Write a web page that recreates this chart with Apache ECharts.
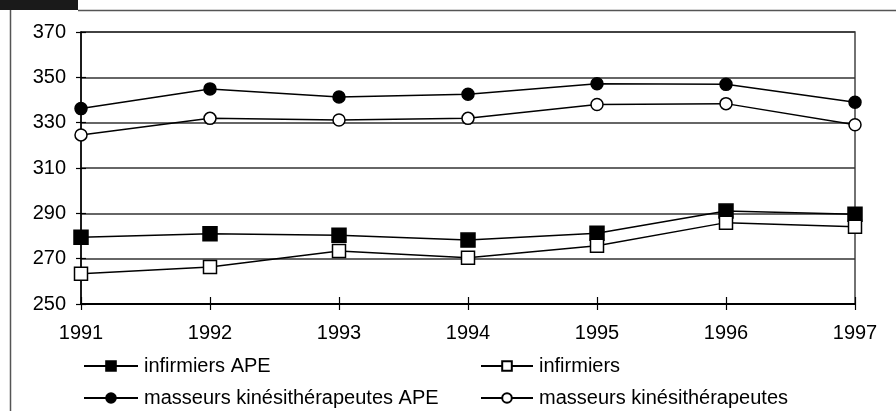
<!DOCTYPE html>
<html>
<head>
<meta charset="utf-8">
<script src="https://cdn.jsdelivr.net/npm/echarts@6/dist/echarts.min.js"></script>
<style>html,body{margin:0;padding:0;background:#fff;}#c{width:896px;height:411px;}</style>
</head>
<body>
<div id="c"></div>
<script>
const years = ['1991','1992','1993','1994','1995','1996','1997'];
const infirmiersAPE = [279.5, 281, 280.3, 278.2, 281.2, 291, 289.6];
const infirmiers = [263.4, 266.3, 273.4, 270.4, 275.7, 285.9, 284.1];
const masseursAPE = [336.2, 344.9, 341.3, 342.5, 347.2, 346.9, 339];
const masseurs = [324.6, 331.9, 331.2, 331.9, 338, 338.4, 329.1];
const yTicks = {min: 250, max: 370, interval: 20};

const FONT = 'Liberation Sans, Arial, sans-serif';
const FS = 20;
const chart = echarts.init(document.getElementById('c'));

function mkSeries(name, data, symbol, size, filled) {
  return {
    name, type: 'line', data, symbol, symbolSize: size,
    xAxisIndex: 0, yAxisIndex: 0,
    lineStyle: {color: '#000', width: 1.5},
    itemStyle: {color: filled ? '#000' : '#fff', borderColor: '#000', borderWidth: 1.5},
    emphasis: {disabled: true}, animation: false, z: filled ? 3 : 4
  };
}
function mkLegend(name, left, top, w) {
  return {
    data: [name], left, top, padding: 0, itemWidth: w, itemHeight: 12, itemGap: 0,
    textStyle: {fontFamily: FONT, fontSize: FS, color: '#000', padding: [0,0,0,1]},
    selectedMode: false
  };
}

chart.setOption({
  backgroundColor: '#fff',
  animation: false,
  grid: {left: 81, right: 41, top: 32, bottom: 107, show: true, borderColor: '#444', borderWidth: 1.5, backgroundColor: 'transparent'},
  xAxis: [{
    type: 'category', data: years, boundaryGap: false,
    axisLine: {lineStyle: {color: '#000', width: 2}},
    axisTick: {show: true, length: 6, lineStyle: {color: '#000', width: 1.2}, alignWithLabel: true},
    axisLabel: {fontFamily: FONT, fontSize: FS, color: '#000', margin: 19},
    splitLine: {show: false}
  }, {
    type: 'category', data: years, boundaryGap: false, position: 'bottom',
    axisLine: {show: false},
    axisTick: {show: true, inside: true, length: 7, lineStyle: {color: '#000', width: 1.2}},
    axisLabel: {show: false}, splitLine: {show: false}
  }],
  yAxis: [{
    type: 'value', min: yTicks.min, max: yTicks.max, interval: yTicks.interval,
    axisLine: {show: true, lineStyle: {color: '#000', width: 1.5}},
    axisTick: {show: true, length: 5, lineStyle: {color: '#000', width: 1.2}},
    axisLabel: {fontFamily: FONT, fontSize: FS, color: '#000', margin: 15},
    splitLine: {show: true, lineStyle: {color: '#333', width: 1.5}}
  }, {
    type: 'value', min: yTicks.min, max: yTicks.max, interval: yTicks.interval, position: 'left',
    axisLine: {show: false},
    axisTick: {show: true, inside: true, length: 5, lineStyle: {color: '#000', width: 1.2}},
    axisLabel: {show: false}, splitLine: {show: false}
  }],
  legend: [
    mkLegend('infirmiers APE', 83, 356, 54),
    mkLegend('infirmiers', 480, 356, 52),
    mkLegend('masseurs kinésithérapeutes APE', 83, 388, 54),
    mkLegend('masseurs kinésithérapeutes', 480, 388, 52)
  ],
  graphic: [
    {type: 'rect', shape: {x: 0, y: 0, width: 78, height: 10}, style: {fill: '#1a1a1a'}, silent: true},
    {type: 'line', shape: {x1: 78, y1: 10.5, x2: 896, y2: 10.5}, style: {stroke: '#555', lineWidth: 1.5}, silent: true},
    {type: 'line', shape: {x1: 10.5, y1: 10, x2: 10.5, y2: 411}, style: {stroke: '#555', lineWidth: 1.5}, silent: true}
  ],
  series: [
    mkSeries('infirmiers APE', infirmiersAPE, 'rect', 14, true),
    mkSeries('infirmiers', infirmiers, 'rect', 13, false),
    mkSeries('masseurs kinésithérapeutes APE', masseursAPE, 'circle', 12, true),
    mkSeries('masseurs kinésithérapeutes', masseurs, 'circle', 12, false)
  ]
});
</script>
</body>
</html>
